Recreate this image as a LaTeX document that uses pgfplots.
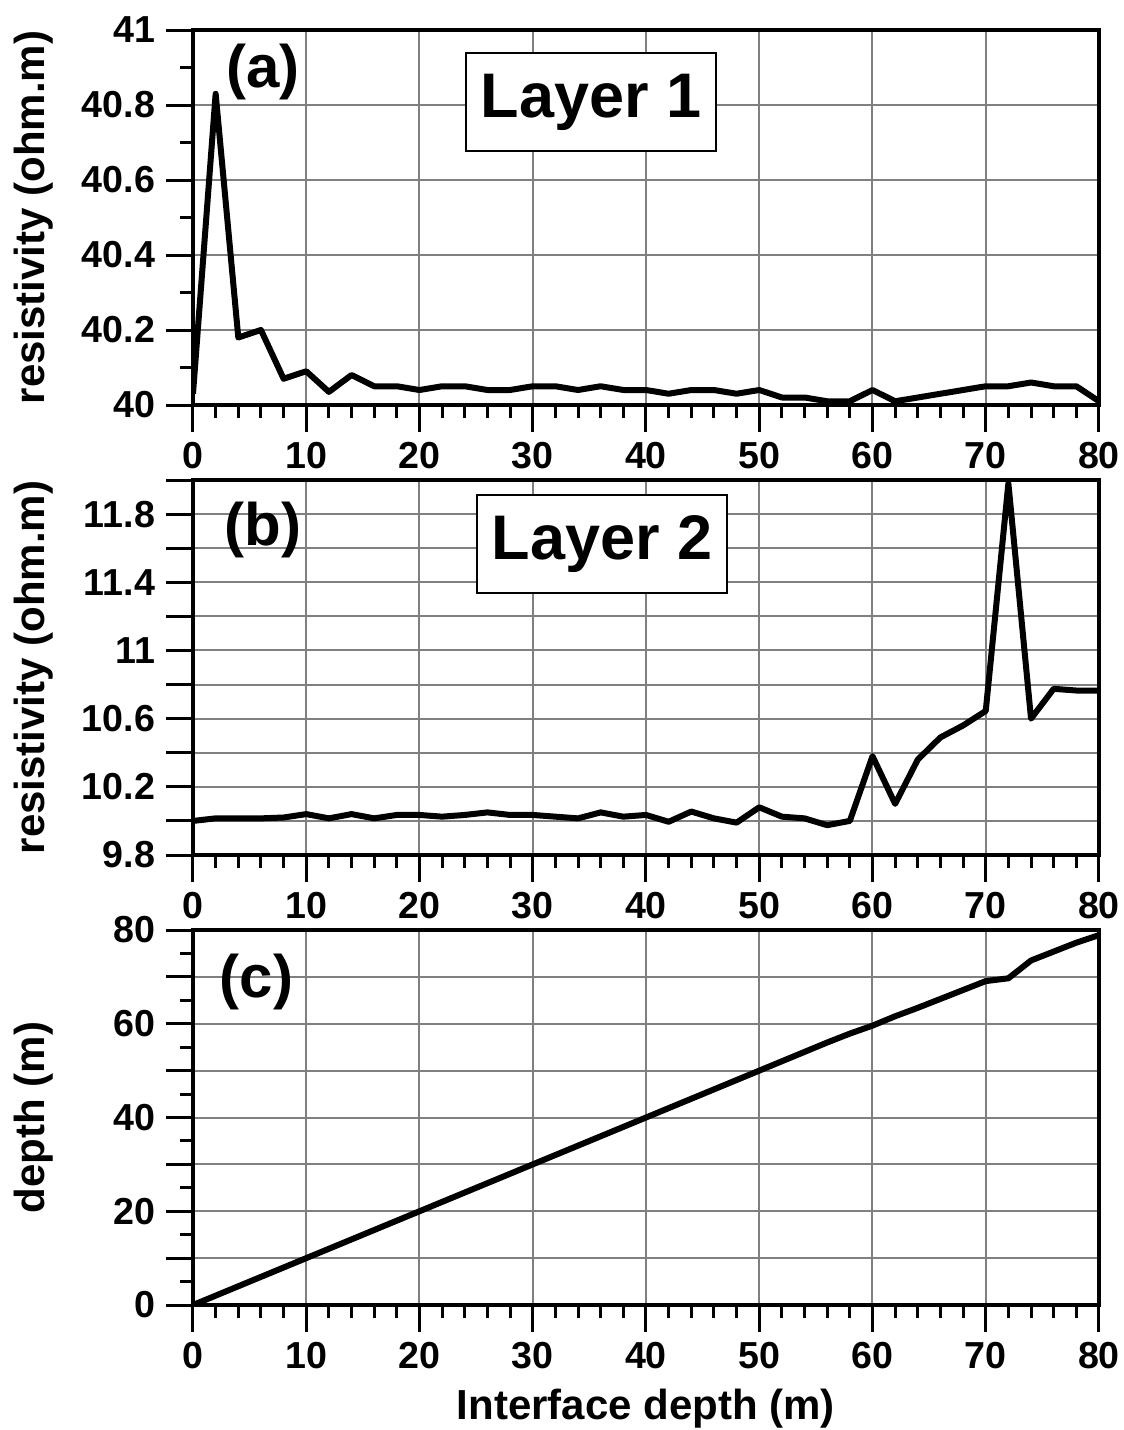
\documentclass[border=0pt]{standalone}
\usepackage{fontspec}
\setmainfont{Liberation Sans}
\usepackage{pgfplots}
\pgfplotsset{compat=1.18}
\pgfplotsset{
  myax/.style={
    width=453pt, height=187.5pt, scale only axis,
    xmin=0, xmax=80, xtick={0,10,...,80}, minor x tick num=4,
    axis line style={line width=2.2pt, black},
    tick align=outside,
    major tick length=13.5pt, minor tick length=6.5pt,
    tick style={line width=1.5pt, black},
    xtick pos=bottom, ytick pos=left,
    grid=major, major grid style={line width=1pt, black!50},
    tick label style={font=\fontsize{18.8}{20}\selectfont\bfseries},
    xticklabel style={yshift=-1.5pt},
    yticklabel style={xshift=-2pt},
    /pgf/number format/assume math mode=true,
    scaled ticks=false,
    label style={font=\fontsize{21}{24}\selectfont\bfseries},
    ylabel style={at={(axis description cs:-0.1755,0.5)}, anchor=center},
  },
  myline/.style={black, line width=3pt, line join=round, no markers},
}
\tikzset{
  panel/.style={font=\fontsize{30}{32}\selectfont\bfseries},
  layer/.style={draw, line width=1.2pt, fill=white, minimum width=125pt, minimum height=49pt, inner sep=0pt, font=\fontsize{31.5}{34}\selectfont\bfseries},
}
\begin{document}
\begin{tikzpicture}
\path[use as bounding box] (-96.5pt,-715pt) rectangle (465.5pt,0pt);
% (a)
\begin{axis}[myax, at={(0pt,-202.5pt)}, anchor=south west,
  ymin=40, ymax=41, ytick={40,40.2,40.4,40.6,40.8,41},
  yticklabels={40,40.2,40.4,40.6,40.8,41}, minor y tick num=1,
  ylabel={resistivity (ohm.m)}]
\addplot[myline] coordinates {
(0,40.03) (2,40.83) (4,40.18) (6,40.20) (8,40.07) (10,40.09) (12,40.035) (14,40.08)
(16,40.05) (18,40.05) (20,40.04) (22,40.05) (24,40.05) (26,40.04) (28,40.04) (30,40.05)
(32,40.05) (34,40.04) (36,40.05) (38,40.04) (40,40.04) (42,40.03) (44,40.04) (46,40.04)
(48,40.03) (50,40.04) (52,40.02) (54,40.02) (56,40.01) (58,40.01) (60,40.04) (62,40.01)
(64,40.02) (66,40.03) (68,40.04) (70,40.05) (72,40.05) (74,40.06) (76,40.05) (78,40.05)
(80,40.01)};
\node[panel] at (axis cs:6.18,40.888) {(a)};
\node[layer] at (axis cs:35.14,40.808) {Layer 1};
\end{axis}
% (b)
\begin{axis}[myax, at={(0pt,-427.5pt)}, anchor=south west,
  ymin=9.8, ymax=12, ytick={9.8,10,10.2,10.4,10.6,10.8,11,11.2,11.4,11.6,11.8,12},
  yticklabels={9.8,,10.2,,10.6,,11,,11.4,,11.8,},
  ylabel={resistivity (ohm.m)}]
\addplot[myline] coordinates {
(0,10.00) (2,10.015) (4,10.015) (6,10.015) (8,10.02) (10,10.04) (12,10.015) (14,10.04)
(16,10.015) (18,10.035) (20,10.035) (22,10.025) (24,10.035) (26,10.05) (28,10.035) (30,10.035)
(32,10.025) (34,10.015) (36,10.05) (38,10.025) (40,10.035) (42,9.995) (44,10.055) (46,10.015)
(48,9.99) (50,10.08) (52,10.025) (54,10.015) (56,9.975) (58,10.0) (60,10.38) (62,10.10)
(64,10.36) (66,10.49) (68,10.56) (70,10.645) (72,11.98) (74,10.60) (76,10.775) (78,10.765)
(80,10.765)};
\node[panel] at (axis cs:6.18,11.707) {(b)};
\node[layer] at (axis cs:36.11,11.625) {Layer 2};
\end{axis}
% (c)
\begin{axis}[myax, at={(0pt,-652.5pt)}, anchor=south west,
  ymin=0, ymax=80, ytick={0,10,...,80},
  yticklabels={0,,20,,40,,60,,80}, minor y tick num=1,
  ylabel={depth (m)}, xlabel={Interface depth (m)},
  xlabel style={at={(axis description cs:0.5,-0.277)}, anchor=center}]
\addplot[myline] coordinates {
(0,0) (2,2) (4,4) (6,6) (8,8) (10,10) (12,12) (14,14) (16,16) (18,18) (20,20)
(22,22) (24,24) (26,26) (28,28) (30,30) (32,32) (34,34) (36,36) (38,38) (40,40)
(42,42) (44,44) (46,46) (48,48) (50,50) (52,52) (54,54) (56,56) (58,57.9) (60,59.6)
(62,61.6) (64,63.4) (66,65.3) (68,67.2) (70,69.1) (72,69.7) (74,73.5) (76,75.4)
(78,77.3) (80,78.9)};
\node[panel] at (axis cs:5.6,68.9) {(c)};
\end{axis}
\end{tikzpicture}
\end{document}
